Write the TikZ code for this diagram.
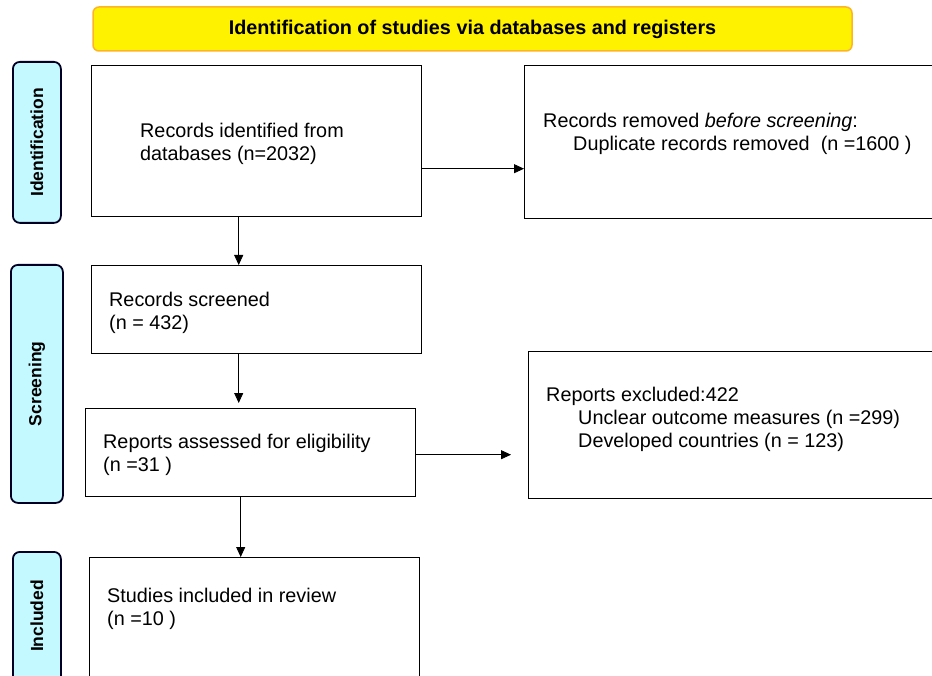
\documentclass[tikz,border=0pt]{standalone}
\usepackage{fontspec}
\setmainfont{Liberation Sans}
\usetikzlibrary{arrows.meta,calc}
\definecolor{sidecyan}{RGB}{196,250,255}
\definecolor{titleorange}{RGB}{255,180,40}
\begin{document}
\begin{tikzpicture}[x=1pt,y=-1pt,
  flowbox/.style={draw=black,line width=1.4pt,inner sep=0pt,anchor=north west},
  sidebox/.style={draw=black!85!blue,line width=1.8pt,fill=sidecyan,rounded corners=7pt,inner sep=0pt,anchor=north west},
  sidelabel/.style={font=\fontsize{17.5}{20}\selectfont\bfseries,rotate=90},
  boxtext/.style={font=\fontsize{19.8}{23}\selectfont,anchor=north west,align=left,inner sep=0pt},
  arr/.style={line width=0.8pt,-{Triangle[length=10pt,width=9pt]}}]
\clip (0,0) rectangle (932,676);
\fill[white] (0,0) rectangle (932,676);
% title
\node[draw=titleorange,line width=1.5pt,fill=yellow,rounded corners=6pt,minimum width=759pt,minimum height=44pt,inner sep=0pt,
  font=\fontsize{19.8}{22}\selectfont\bfseries] (title) at (472.5,29) {Identification of studies via databases and registers};
% side boxes
\node[sidebox,minimum width=48pt,minimum height=161pt] (sid) at (12,61) {};
\node[sidelabel] (sidl) at (sid.center) {Identification};
\node[sidebox,minimum width=52pt,minimum height=238pt] (scr) at (10,264) {};
\node[sidelabel] (scrl) at (scr.center) {Screening};
\node[sidebox,minimum width=48pt,minimum height=140pt] (inc) at (12,551) {};
\node[sidelabel] (incl) at ($(inc.north)+(0,65)$) {Included};
% flow boxes
\node[flowbox,minimum width=330pt,minimum height=151pt] (b1) at (91,65) {};
\node[boxtext] (t1) at (140,123) {Records identified from\\databases (n=2032)};
\node[flowbox,minimum width=420pt,minimum height=153pt] (b2) at (524,65) {};
\node[boxtext] (t2) at (543,113) {Records removed \textit{before screening}:\\\hspace*{30pt}Duplicate records removed\ \ (n =1600 )};
\node[flowbox,minimum width=330pt,minimum height=88pt] (b3) at (91,265) {};
\node[boxtext] (t3) at (109,292) {Records screened\\(n = 432)};
\node[flowbox,minimum width=330pt,minimum height=88pt] (b4) at (85,408) {};
\node[boxtext] (t4) at (103,434) {Reports assessed for eligibility\\(n =31 )};
\node[flowbox,minimum width=420pt,minimum height=147pt] (b5) at (528,351) {};
\node[boxtext] (t5) at (546,387) {Reports excluded:422\\\hspace*{32pt}Unclear outcome measures (n =299)\\\hspace*{32pt}Developed countries (n = 123)};
\node[flowbox,minimum width=330pt,minimum height=140pt] (b6) at (89,557) {};
\node[boxtext] (t6) at (107,588) {Studies included in review\\(n =10 )};
% connectors
\draw[arr] ([yshift=-27.5pt]b1.east) -- ([yshift=-27.5pt]b1.east -| b2.west);
\draw[arr] ([xshift=-18pt]b1.south) -- ([xshift=-18pt]b1.south |- b3.north);
\draw[arr] ([xshift=-18pt]b3.south) -- ($([xshift=-18pt]b3.south |- b4.north)+(0,-5)$);
\draw[arr] ([yshift=-2pt]b4.east) -- ($([yshift=-2pt]b4.east -| b5.west)+(-17,0)$);
\draw[arr] ([xshift=-10pt]b4.south) -- ([xshift=-10pt]b4.south |- b6.north);
\end{tikzpicture}
\end{document}
